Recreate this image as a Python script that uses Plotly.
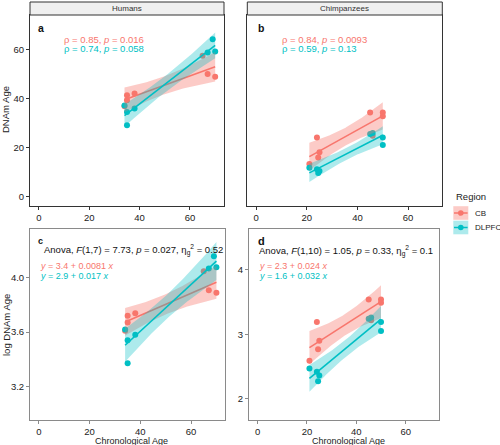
import numpy as np
import plotly.graph_objects as go

# ---------------- data ----------------
regions = ["CB", "DLPFC"]
colors = {"CB": "#F8766D", "DLPFC": "#00BFC4"}
fills = {"CB": "rgba(248,118,109,0.38)", "DLPFC": "rgba(0,191,196,0.32)"}

# Humans
hum_cb_age = [34, 35, 35, 38, 65, 67, 70]
hum_cb_dnam = [36.9, 41.3, 39.3, 42.1, 57.4, 50.0, 48.9]
hum_cb_log = [3.61, 3.72, 3.67, 3.74, 4.05, 3.91, 3.89]
hum_dl_age = [34, 35, 35, 38, 67, 69, 70]
hum_dl_dnam = [37.2, 34.5, 29.1, 36.0, 58.7, 64.1, 59.1]
hum_dl_log = [3.62, 3.54, 3.37, 3.58, 4.07, 4.16, 4.08]

# Chimpanzees
chp_cb_age = [21, 24, 24.5, 25, 45, 46, 50, 50]
chp_cb_dnam = [13.4, 24.2, 16.0, 18.2, 34.3, 24.9, 34.3, 32.8]
chp_cb_log = [2.59, 3.19, 2.77, 2.90, 3.54, 3.22, 3.54, 3.49]
chp_dl_age = [21, 24, 24.5, 25, 45, 46, 50, 50]
chp_dl_dnam = [11.8, 11.2, 9.7, 10.5, 25.6, 26.0, 24.2, 21.1]
chp_dl_log = [2.47, 2.42, 2.27, 2.36, 3.24, 3.26, 3.19, 3.05]

x_ticks = [0, 20, 40, 60]
y_ticks_top = [0, 20, 40, 60]
y_ticks_c = [3.2, 3.6, 4.0]
y_ticks_d = [2, 3, 4]

# t quantiles (97.5%) for df = n - 2
T_Q = {5: 2.5706, 6: 2.4469}

W, H = 500, 445
FONT = "Liberation Sans, Arial, sans-serif"


def px(x):
    return x / W


def py(y):
    return 1 - y / H


def lm_band(x, y, ngrid=80):
    x = np.asarray(x, float)
    y = np.asarray(y, float)
    n = len(x)
    xm, ym = x.mean(), y.mean()
    sxx = ((x - xm) ** 2).sum()
    b1 = ((x - xm) * (y - ym)).sum() / sxx
    b0 = ym - b1 * xm
    resid = y - (b0 + b1 * x)
    s = np.sqrt((resid ** 2).sum() / (n - 2))
    g = np.linspace(x.min(), x.max(), ngrid)
    yh = b0 + b1 * g
    se = s * np.sqrt(1.0 / n + (g - xm) ** 2 / sxx)
    t = T_Q[n - 2]
    return g, yh, yh - t * se, yh + t * se


fig = go.Figure()

panels = [
    ("x", "y", [(hum_cb_age, hum_cb_dnam), (hum_dl_age, hum_dl_dnam)]),
    ("x2", "y2", [(chp_cb_age, chp_cb_dnam), (chp_dl_age, chp_dl_dnam)]),
    ("x3", "y3", [(hum_cb_age, hum_cb_log), (hum_dl_age, hum_dl_log)]),
    ("x4", "y4", [(chp_cb_age, chp_cb_log), (chp_dl_age, chp_dl_log)]),
]

for xa, ya, series in panels:
    for reg, (ax, ay) in zip(regions, series):
        fig.add_trace(go.Scatter(x=ax, y=ay, mode="markers", xaxis=xa, yaxis=ya,
                                 marker=dict(color=colors[reg], size=6, line=dict(width=0)),
                                 showlegend=False, hoverinfo="skip"))
    for reg, (ax, ay) in zip(regions, series):
        g, yh, lo, hi = lm_band(ax, ay)
        fig.add_trace(go.Scatter(x=np.concatenate([g, g[::-1]]), y=np.concatenate([hi, lo[::-1]]),
                                 fill="toself", fillcolor=fills[reg], line=dict(width=0),
                                 mode="lines", xaxis=xa, yaxis=ya, showlegend=False, hoverinfo="skip"))
        fig.add_trace(go.Scatter(x=g, y=yh, mode="lines", xaxis=xa, yaxis=ya,
                                 line=dict(color=colors[reg], width=1.6),
                                 showlegend=False, hoverinfo="skip"))

dom = {
    "a": ([30, 224], [15, 205.7]),
    "b": ([247.3, 442.3], [15, 205.7]),
    "c": ([30, 225.3], [229.3, 420]),
    "d": ([249, 439], [229.3, 420]),
}


def xdom(k):
    return [px(dom[k][0][0]), px(dom[k][0][1])]


def ydom(k):
    return [py(dom[k][1][1]), py(dom[k][1][0])]


top_line = "#333333"
bot_line = "#8a8a8a"
tickfont = dict(family=FONT, size=9.5, color="#222222")


def xaxis_cfg(k, anchor, lc):
    return dict(domain=xdom(k), anchor=anchor, range=[-3.5, 73.5], tickvals=x_ticks,
                showline=True, mirror=True, linecolor=lc, linewidth=1,
                ticks="outside", ticklen=3, tickcolor=lc, tickwidth=1,
                showgrid=False, zeroline=False, tickfont=tickfont)


def yaxis_cfg(k, anchor, lc, rng, tv, show=True, fmt=None):
    d = dict(domain=ydom(k), anchor=anchor, range=rng, tickvals=tv,
             showline=True, mirror=True, linecolor=lc, linewidth=1,
             ticks="outside" if show else "", ticklen=3, tickcolor=lc, tickwidth=1,
             showticklabels=show, showgrid=False, zeroline=False, tickfont=tickfont)
    if fmt:
        d["tickformat"] = fmt
    return d


fig.update_layout(
    width=W, height=H, margin=dict(l=0, r=0, t=0, b=0),
    paper_bgcolor="white", plot_bgcolor="white", showlegend=False,
    font=dict(family=FONT, size=10, color="#222222"),
    xaxis=xaxis_cfg("a", "y", top_line),
    yaxis=yaxis_cfg("a", "x", top_line, [-3.6, 74], y_ticks_top),
    xaxis2=xaxis_cfg("b", "y2", top_line),
    yaxis2=yaxis_cfg("b", "x2", top_line, [-3.6, 74], y_ticks_top, show=False),
    xaxis3=xaxis_cfg("c", "y3", bot_line),
    yaxis3=yaxis_cfg("c", "x3", bot_line, [2.95, 4.36], y_ticks_c, fmt=".1f"),
    xaxis4=xaxis_cfg("d", "y4", bot_line),
    yaxis4=yaxis_cfg("d", "x4", bot_line, [1.67, 4.63], y_ticks_d),
)

shapes = []
ann = []

for k, label in (("a", "Humans"), ("b", "Chimpanzees")):
    x0, x1 = dom[k][0]
    shapes.append(dict(type="rect", xref="paper", yref="paper", x0=px(x0), x1=px(x1),
                       y0=py(15), y1=py(2), fillcolor="#F0F0F0", line=dict(color=top_line, width=1)))
    ann.append(dict(text=label, x=px((x0 + x1) / 2), y=py(8.5), xref="paper", yref="paper",
                    showarrow=False, font=dict(family=FONT, size=8, color="#333333"),
                    xanchor="center", yanchor="middle"))


def txt(s, x, y, color="#111111", size=9.5, bold=False):
    if bold:
        s = "<b>" + s + "</b>"
    ann.append(dict(text=s, x=px(x), y=py(y), xref="paper", yref="paper", showarrow=False,
                    font=dict(family=FONT, size=size, color=color), xanchor="left", yanchor="middle"))


red, blue = colors["CB"], colors["DLPFC"]

txt("a", 35.5, 27.5, bold=True, size=10.5)
txt("ρ = 0.85, <i>p</i> = 0.016", 62, 39.3, red)
txt("ρ = 0.74, <i>p</i> = 0.058", 62, 48.7, blue)
txt("b", 255.5, 27.5, bold=True, size=10.5)
txt("ρ = 0.84, <i>p</i> = 0.0093", 280, 39.3, red)
txt("ρ = 0.59, <i>p</i> = 0.13", 280, 48.7, blue)
txt("c", 36, 240.5, bold=True, size=9)
txt("Anova, <i>F</i>(1,7) = 7.73, <i>p</i> = 0.027, η<sub>g</sub><sup>2</sup> = 0.52", 41.5, 250)
txt("<i>y</i> = 3.4 + 0.0081 <i>x</i>", 37.5, 266, red, size=9)
txt("<i>y</i> = 2.9 + 0.017 <i>x</i>", 37.5, 275.5, blue, size=9)
txt("d", 255.5, 240.5, bold=True, size=11)
txt("Anova, <i>F</i>(1,10) = 1.05, <i>p</i> = 0.33, η<sub>g</sub><sup>2</sup> = 0.1", 256.5, 250.5)
txt("<i>y</i> = 2.3 + 0.024 <i>x</i>", 256.5, 265.5, red, size=9)
txt("<i>y</i> = 1.6 + 0.032 <i>x</i>", 256.5, 275.5, blue, size=9)

ann.append(dict(text="DNAm Age", x=px(6), y=py(110), xref="paper", yref="paper", showarrow=False,
                textangle=-90, font=dict(family=FONT, size=9.5, color="#222222"),
                xanchor="center", yanchor="middle"))
ann.append(dict(text="log DNAm Age", x=px(6), y=py(325), xref="paper", yref="paper", showarrow=False,
                textangle=-90, font=dict(family=FONT, size=9.5, color="#222222"),
                xanchor="center", yanchor="middle"))
for k in ("c", "d"):
    x0, x1 = dom[k][0]
    ann.append(dict(text="Chronological Age", x=px((x0 + x1) / 2 + 4), y=py(440.5), xref="paper",
                    yref="paper", showarrow=False, font=dict(family=FONT, size=9, color="#222222"),
                    xanchor="center", yanchor="middle"))

ann.append(dict(text="Region", x=px(453.5), y=py(196), xref="paper", yref="paper", showarrow=False,
                font=dict(family=FONT, size=9.5, color="#222222"), xanchor="left", yanchor="middle"))
for i, reg in enumerate(regions):
    yc = 213 + 14.5 * i
    shapes.append(dict(type="rect", xref="paper", yref="paper", x0=px(453.3), x1=px(468.3),
                       y0=py(yc + 6.8), y1=py(yc - 6.8), fillcolor=fills[reg], line=dict(width=0)))
    shapes.append(dict(type="line", xref="paper", yref="paper", x0=px(454), x1=px(467.6),
                       y0=py(yc), y1=py(yc), line=dict(color=colors[reg], width=1.5)))
    shapes.append(dict(type="circle", xref="paper", yref="paper", x0=px(458), x1=px(463.6),
                       y0=py(yc + 2.8), y1=py(yc - 2.8), fillcolor=colors[reg], line=dict(width=0)))
    ann.append(dict(text=reg, x=px(473), y=py(yc), xref="paper", yref="paper", showarrow=False,
                    font=dict(family=FONT, size=8, color="#222222"), xanchor="left", yanchor="middle"))

fig.update_layout(shapes=shapes, annotations=ann)
fig.write_html("out.html", config={"displayModeBar": False},
               post_script="document.body.style.margin='0px';document.body.style.overflow='hidden';")
